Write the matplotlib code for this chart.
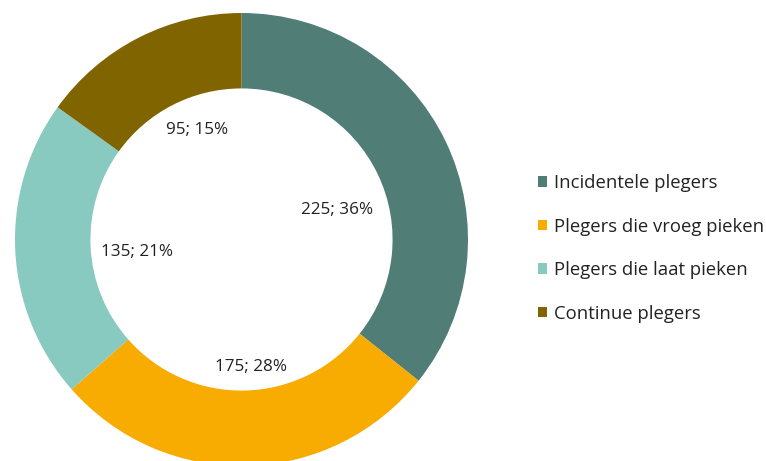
import matplotlib
matplotlib.use("Agg")
import matplotlib.pyplot as plt
import numpy as np
from matplotlib.patches import Patch

categories = ["Incidentele plegers", "Plegers die vroeg pieken",
              "Plegers die laat pieken", "Continue plegers"]
values = [225, 175, 135, 95]
percent_labels = ["36%", "28%", "21%", "15%"]
colors = ["#517d77", "#f8ab00", "#88cac0", "#806400"]

plt.rcParams["font.family"] = ["Open Sans", "DejaVu Sans"]

W, H = 766, 461
fig = plt.figure(figsize=(W / 100, H / 100), dpi=100)
fig.patch.set_facecolor("white")

cx, cy, R = 241.5, 461 - 239.5, 226.5
ax = fig.add_axes([(cx - R) / W, (cy - R) / H, 2 * R / W, 2 * R / H])
wedges, _ = ax.pie(values, colors=colors, startangle=90, counterclock=False,
                   radius=1.0, wedgeprops=dict(width=0.333, linewidth=0))
ax.set_xlim(-1, 1)
ax.set_ylim(-1, 1)
ax.set_aspect("equal")
ax.axis("off")

# label placement: mid-angle of each wedge with small per-label tweaks
label_r = [0.44, 0.565, 0.465, 0.52]
label_dang = [-8.5, 2.9, 3.9, -5.2]
for w, v, p, r, da in zip(wedges, values, percent_labels, label_r, label_dang):
    mid = np.deg2rad((w.theta1 + w.theta2) / 2 + da)
    ax.text(r * np.cos(mid), r * np.sin(mid), f"{v}; {p}", ha="center",
            va="center", fontsize=12.3, color="#222222")

handles = [Patch(facecolor=c, edgecolor="none") for c in colors]
fig.legend(handles, categories, loc="center left",
           bbox_to_anchor=(538 / W, 1 - 248.5 / H), frameon=False,
           fontsize=13.3, labelcolor="#222222", handlelength=0.5,
           handleheight=0.5, handletextpad=0.38, labelspacing=1.38,
           borderaxespad=0, borderpad=0)

fig.savefig("out.png", dpi=100, facecolor="white")
